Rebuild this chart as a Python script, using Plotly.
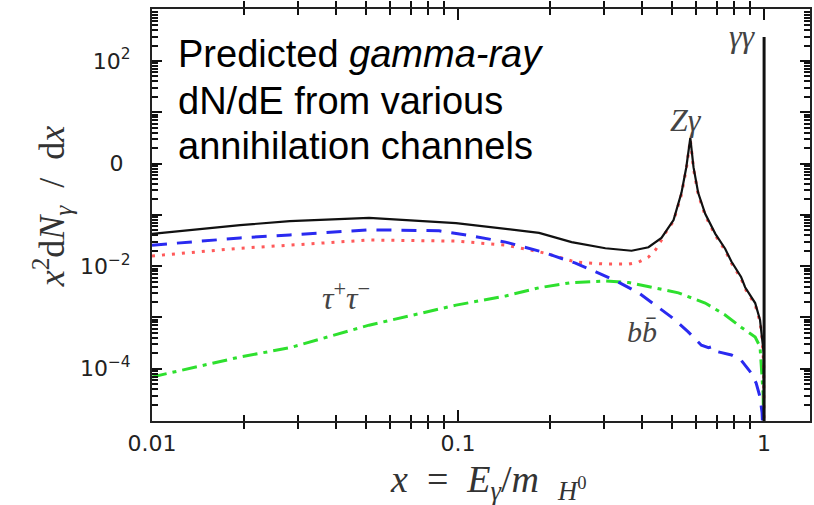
import plotly.graph_objects as go

# ---------------- data ----------------
x_total = [0.01, 0.0194, 0.0282, 0.0512, 0.0985, 0.143, 0.184, 0.235, 0.303, 0.369,
           0.419, 0.462, 0.506, 0.537, 0.557, 0.574, 0.588, 0.609, 0.642, 0.693,
           0.746, 0.782, 0.841, 0.867, 0.935, 0.970, 0.985, 0.997, 1.0]
y_total = [0.0427, 0.0631, 0.0759, 0.0871, 0.0692, 0.0525, 0.0447, 0.0295, 0.0224, 0.0200,
           0.0234, 0.0355, 0.0794, 0.269, 0.851, 3.16, 0.851, 0.269, 0.105, 0.0427,
           0.0219, 0.0123, 0.00617, 0.00389, 0.00191, 0.000891, 0.000447, 0.000204, 1e-6]

x_zg = [0.01, 0.0194, 0.0282, 0.0512, 0.0985, 0.143, 0.184, 0.208, 0.242, 0.303,
        0.361, 0.389, 0.419, 0.442, 0.458, 0.476, 0.506, 0.537, 0.557, 0.574,
        0.588, 0.609, 0.642, 0.693, 0.746, 0.782, 0.841, 0.867, 0.935, 0.970,
        0.985, 0.997, 1.0]
y_zg = [0.0158, 0.0224, 0.0257, 0.0324, 0.0309, 0.0257, 0.0191, 0.0158, 0.0120, 0.0110,
        0.0110, 0.0120, 0.0151, 0.0209, 0.0295, 0.0447, 0.0759, 0.251, 0.794, 2.95,
        0.794, 0.251, 0.0977, 0.0398, 0.0204, 0.0115, 0.00575, 0.00363, 0.00178, 0.000832,
        0.000398, 0.000126, 1e-6]

x_bb = [0.01, 0.0194, 0.0282, 0.0512, 0.0867, 0.111, 0.143, 0.188, 0.208, 0.242,
        0.282, 0.334, 0.389, 0.442, 0.498, 0.565, 0.624, 0.658, 0.682, 0.708,
        0.782, 0.841, 0.907, 0.942, 0.970, 0.985, 0.997]
y_bb = [0.0257, 0.0355, 0.0407, 0.0513, 0.0490, 0.0389, 0.0295, 0.0191, 0.0155, 0.0115,
        0.00776, 0.00490, 0.00302, 0.00174, 0.00102, 0.000525, 0.000288, 0.000257, 0.000275, 0.000214,
        0.000186, 0.000148, 8.32e-5, 5.25e-5, 2.82e-5, 1.38e-5, 2.5e-6]

x_tau = [0.01, 0.0194, 0.0282, 0.0512, 0.0985, 0.143, 0.184, 0.208, 0.235, 0.303,
         0.361, 0.429, 0.525, 0.642, 0.746, 0.841, 0.935, 0.970, 0.977, 0.993, 1.0]
y_tau = [6.92e-5, 1.70e-4, 2.57e-4, 7.08e-4, 1.74e-3, 2.63e-3, 3.80e-3, 4.27e-3, 4.79e-3, 5.13e-3,
         4.79e-3, 3.89e-3, 3.02e-3, 1.91e-3, 1.12e-3, 6.46e-4, 4.17e-4, 2.69e-4, 1.48e-4, 3.16e-5, 1e-6]

x_line = [1.0, 1.0]
y_line = [1e-6, 295]

x_tickvals = [0.01, 0.1, 1]
x_ticktext = ["0.01", "0.1", "1"]
y_tickvals = [1e-4, 1e-2, 1e0, 1e2]
y_ticktext = ["10<sup>−4</sup>", "10<sup>−2</sup>", "0\u00a0", "10<sup>2</sup>"]
y_unlabeled = [1e-5, 1e-3, 1e-1, 1e1, 1e3]

text_lines = ["Predicted <i>gamma-ray</i>", "dN/dE from various", "annihilation channels"]

# ---------------- layout geometry ----------------
W, H = 814, 505
L, R, T, B = 152, 812, 9, 421
XR = [-2, 0.150]
YR = [-5.018, 3.014]


def pxx(v):
    return (v - L) / (R - L)


def pxy(v):
    return (B - v) / (B - T)


fig = go.Figure()
fig.add_trace(go.Scatter(x=x_tau, y=y_tau, mode="lines",
                         line=dict(color="#2ee02e", width=3, dash="15px,6px,4px,6px")))
fig.add_trace(go.Scatter(x=x_zg, y=y_zg, mode="lines",
                         line=dict(color="#ff5a5a", width=3, dash="3px,7px")))
fig.add_trace(go.Scatter(x=x_bb, y=y_bb, mode="lines",
                         line=dict(color="#2a2af0", width=3, dash="15px,10px")))
fig.add_trace(go.Scatter(x=x_total, y=y_total, mode="lines",
                         line=dict(color="#111111", width=2.2)))
fig.add_trace(go.Scatter(x=x_line, y=y_line, mode="lines",
                         line=dict(color="#111111", width=3)))
# empty traces so the overlay tick axes are drawn
fig.add_trace(go.Scatter(x=[], y=[], xaxis="x2", yaxis="y2", hoverinfo="skip"))
fig.add_trace(go.Scatter(x=[], y=[], xaxis="x2", yaxis="y3", hoverinfo="skip"))

minor_x = [m * 10 ** e for e in (-2, -1, 0) for m in range(2, 10)]
minor_y = [m * 10 ** e for e in range(-6, 3) for m in range(2, 10)]

axcommon = dict(type="log", showgrid=False, zeroline=False, showline=True,
                linecolor="#222", linewidth=2, mirror="allticks", ticks="inside",
                tickcolor="#111")
tickfont = dict(family="DejaVu Sans", size=22, color="#222")

fig.update_layout(
    xaxis=dict(**axcommon, range=XR, ticklen=11, tickwidth=2, tickmode="array",
               tickvals=x_tickvals, ticktext=x_ticktext, tickfont=tickfont,
               ticklabelstandoff=2),
    xaxis2=dict(**axcommon, range=XR, ticklen=6, tickwidth=1.6, tickmode="array",
                tickvals=minor_x, showticklabels=False, overlaying="x", anchor="y2",
                side="bottom"),
    yaxis=dict(**axcommon, range=YR, ticklen=10, tickwidth=2, tickmode="array",
               tickvals=y_tickvals, ticktext=y_ticktext, tickfont=tickfont,
               ticklabelstandoff=15),
    yaxis2=dict(**axcommon, range=YR, ticklen=10, tickwidth=2, tickmode="array",
                tickvals=y_unlabeled, showticklabels=False, overlaying="y", anchor="x2",
                side="left"),
    yaxis3=dict(**axcommon, range=YR, ticklen=6, tickwidth=1.6, tickmode="array",
                tickvals=minor_y, showticklabels=False, overlaying="y", anchor="x2",
                side="left"),
)

serif = "Liberation Serif"
ann = []
for i, (line, cy) in enumerate(zip(text_lines, [54, 101, 146])):
    ann.append(dict(x=pxx(176), y=pxy(cy), xref="paper", yref="paper", xanchor="left",
                    yanchor="middle", align="left", showarrow=False, text=line,
                    font=dict(family="Liberation Sans", size=38, color="#000")))


def lab(text, cx, cy, size, color="#444"):
    return dict(x=pxx(cx), y=pxy(cy), xref="paper", yref="paper", xanchor="center",
                yanchor="middle", showarrow=False, text=text,
                font=dict(family=serif, size=size, color=color))


ann.append(lab("<i>γγ</i>", 744, 36, 32))
ann.append(lab("<i>Zγ</i>", 688, 120, 32))
ann.append(lab("<i>τ</i><sup>+</sup><i>τ</i><sup>−</sup>", 347, 296, 32))
ann.append(lab("<i>bb\u0304</i>", 643, 331, 30))
ann.append(lab("<i>x</i>  =  <i>E</i><sub><i>γ</i></sub>/<i>m</i>  <sub><i>H</i><sup>0</sup></sub>",
               490, 482, 38, "#333"))
yt = lab("<i>x</i><sup>2</sup>d<i>N</i><sub><i>γ</i></sub>  /  d<i>x</i>", 52, 206, 36, "#333")
yt["textangle"] = -90
ann.append(yt)

fig.update_layout(width=W, height=H, margin=dict(l=L, r=W - R, t=T, b=H - B),
                  paper_bgcolor="white", plot_bgcolor="white", showlegend=False,
                  annotations=ann)

fig.write_html("out.html")
